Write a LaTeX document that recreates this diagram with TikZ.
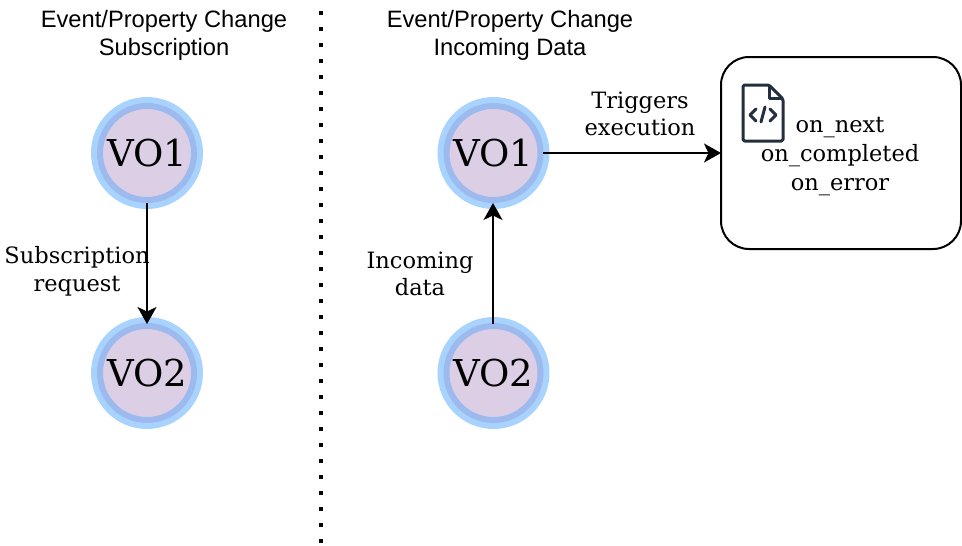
\documentclass[tikz,border=0pt]{standalone}
\usepackage{fontspec}
\setmainfont{DejaVu Serif}
\newfontfamily\headfont{Liberation Sans}
\usetikzlibrary{arrows.meta}
\definecolor{ringout}{HTML}{A9D3FF}
\definecolor{ringin}{HTML}{9DBAEE}
\definecolor{vofill}{HTML}{DCCFE5}
\definecolor{icondark}{HTML}{232F3E}
\tikzset{
  x=1pt,y=-1pt,
  vo/.style={circle,draw=ringin,line width=6pt,fill=vofill,minimum size=94pt,inner sep=0pt,
    font=\fontsize{37}{44}\selectfont,text=black},
  halo/.style={circle,fill=ringout,minimum size=112pt,inner sep=0pt},
  lbl/.style={align=center,font=\fontsize{22.5}{27.5}\selectfont,inner sep=0pt},
  head/.style={align=center,font=\headfont\fontsize{23.7}{28}\selectfont,inner sep=0pt},
  conn/.style={draw=black,line width=2pt,-{Stealth[length=17pt,width=19pt,inset=4.5pt]}},
}
\begin{document}
\begin{tikzpicture}
\useasboundingbox (0,0) rectangle (962,546);
\node[head] (t1) at (164,35.5) {Event/Property Change\\Subscription};
\node[head] (t2) at (510,35.5) {Event/Property Change\\Incoming Data};
\coordinate (dtop) at (321,11);
\coordinate (dbot) at (321,546);
\draw[line width=4pt,dash pattern=on 4pt off 12pt] (dtop) -- (dbot);

\node[halo] at (147,153) {};
\node[halo] at (147,373) {};
\node[halo] at (493.5,153) {};
\node[halo] at (493.5,373) {};
\node[vo] (a1) at (147,153) {\raisebox{-0.8pt}{VO1}};
\node[vo] (a2) at (147,373) {\raisebox{-0.8pt}{VO2}};
\node[vo] (b1) at (493.5,153) {\raisebox{-0.8pt}{VO1}};
\node[vo] (b2) at (493.5,373) {\raisebox{-0.8pt}{VO2}};

\node[draw=black,line width=2pt,rounded corners=28pt,minimum width=240pt,minimum height=192pt,inner sep=0pt,outer sep=0pt] (box) at (841,153) {};
\node[lbl,font=\fontsize{22.5}{29}\selectfont] (code) at (840,156.5) {on\_next\\on\_completed\\on\_error};

\coordinate (a1s) at (147,203);
\coordinate (a2e) at (147,324);
\coordinate (b2s) at (493,324);
\coordinate (b1e) at (493,203);
\coordinate (b1r) at (543,153);
\draw[conn] (a1s) -- (a2e);
\draw[conn] (b2s) -- (b1e);
\draw[conn] (b1r) -- (box.west);

\node[lbl] (l1) at (77,271.5) {Subscription\\request};
\node[lbl] (l2) at (420,274) {Incoming\\data};
\node[lbl] (l3) at (640,114) {Triggers\\execution};

% file icon
\begin{scope}[icondark,line width=3pt,line join=round]
\draw[rounded corners=1.5pt] (743,85) -- (769,85) -- (783,99) -- (783,141) -- (743,141) -- cycle;
\draw (769,85) -- (769,98) -- (783,98);
\draw[line cap=round] (756,109) -- (750,115) -- (756,121);
\draw[line cap=round] (770,109) -- (776,115) -- (770,121);
\draw[line cap=round] (765,107) -- (761,122);
\end{scope}
\end{tikzpicture}
\end{document}
